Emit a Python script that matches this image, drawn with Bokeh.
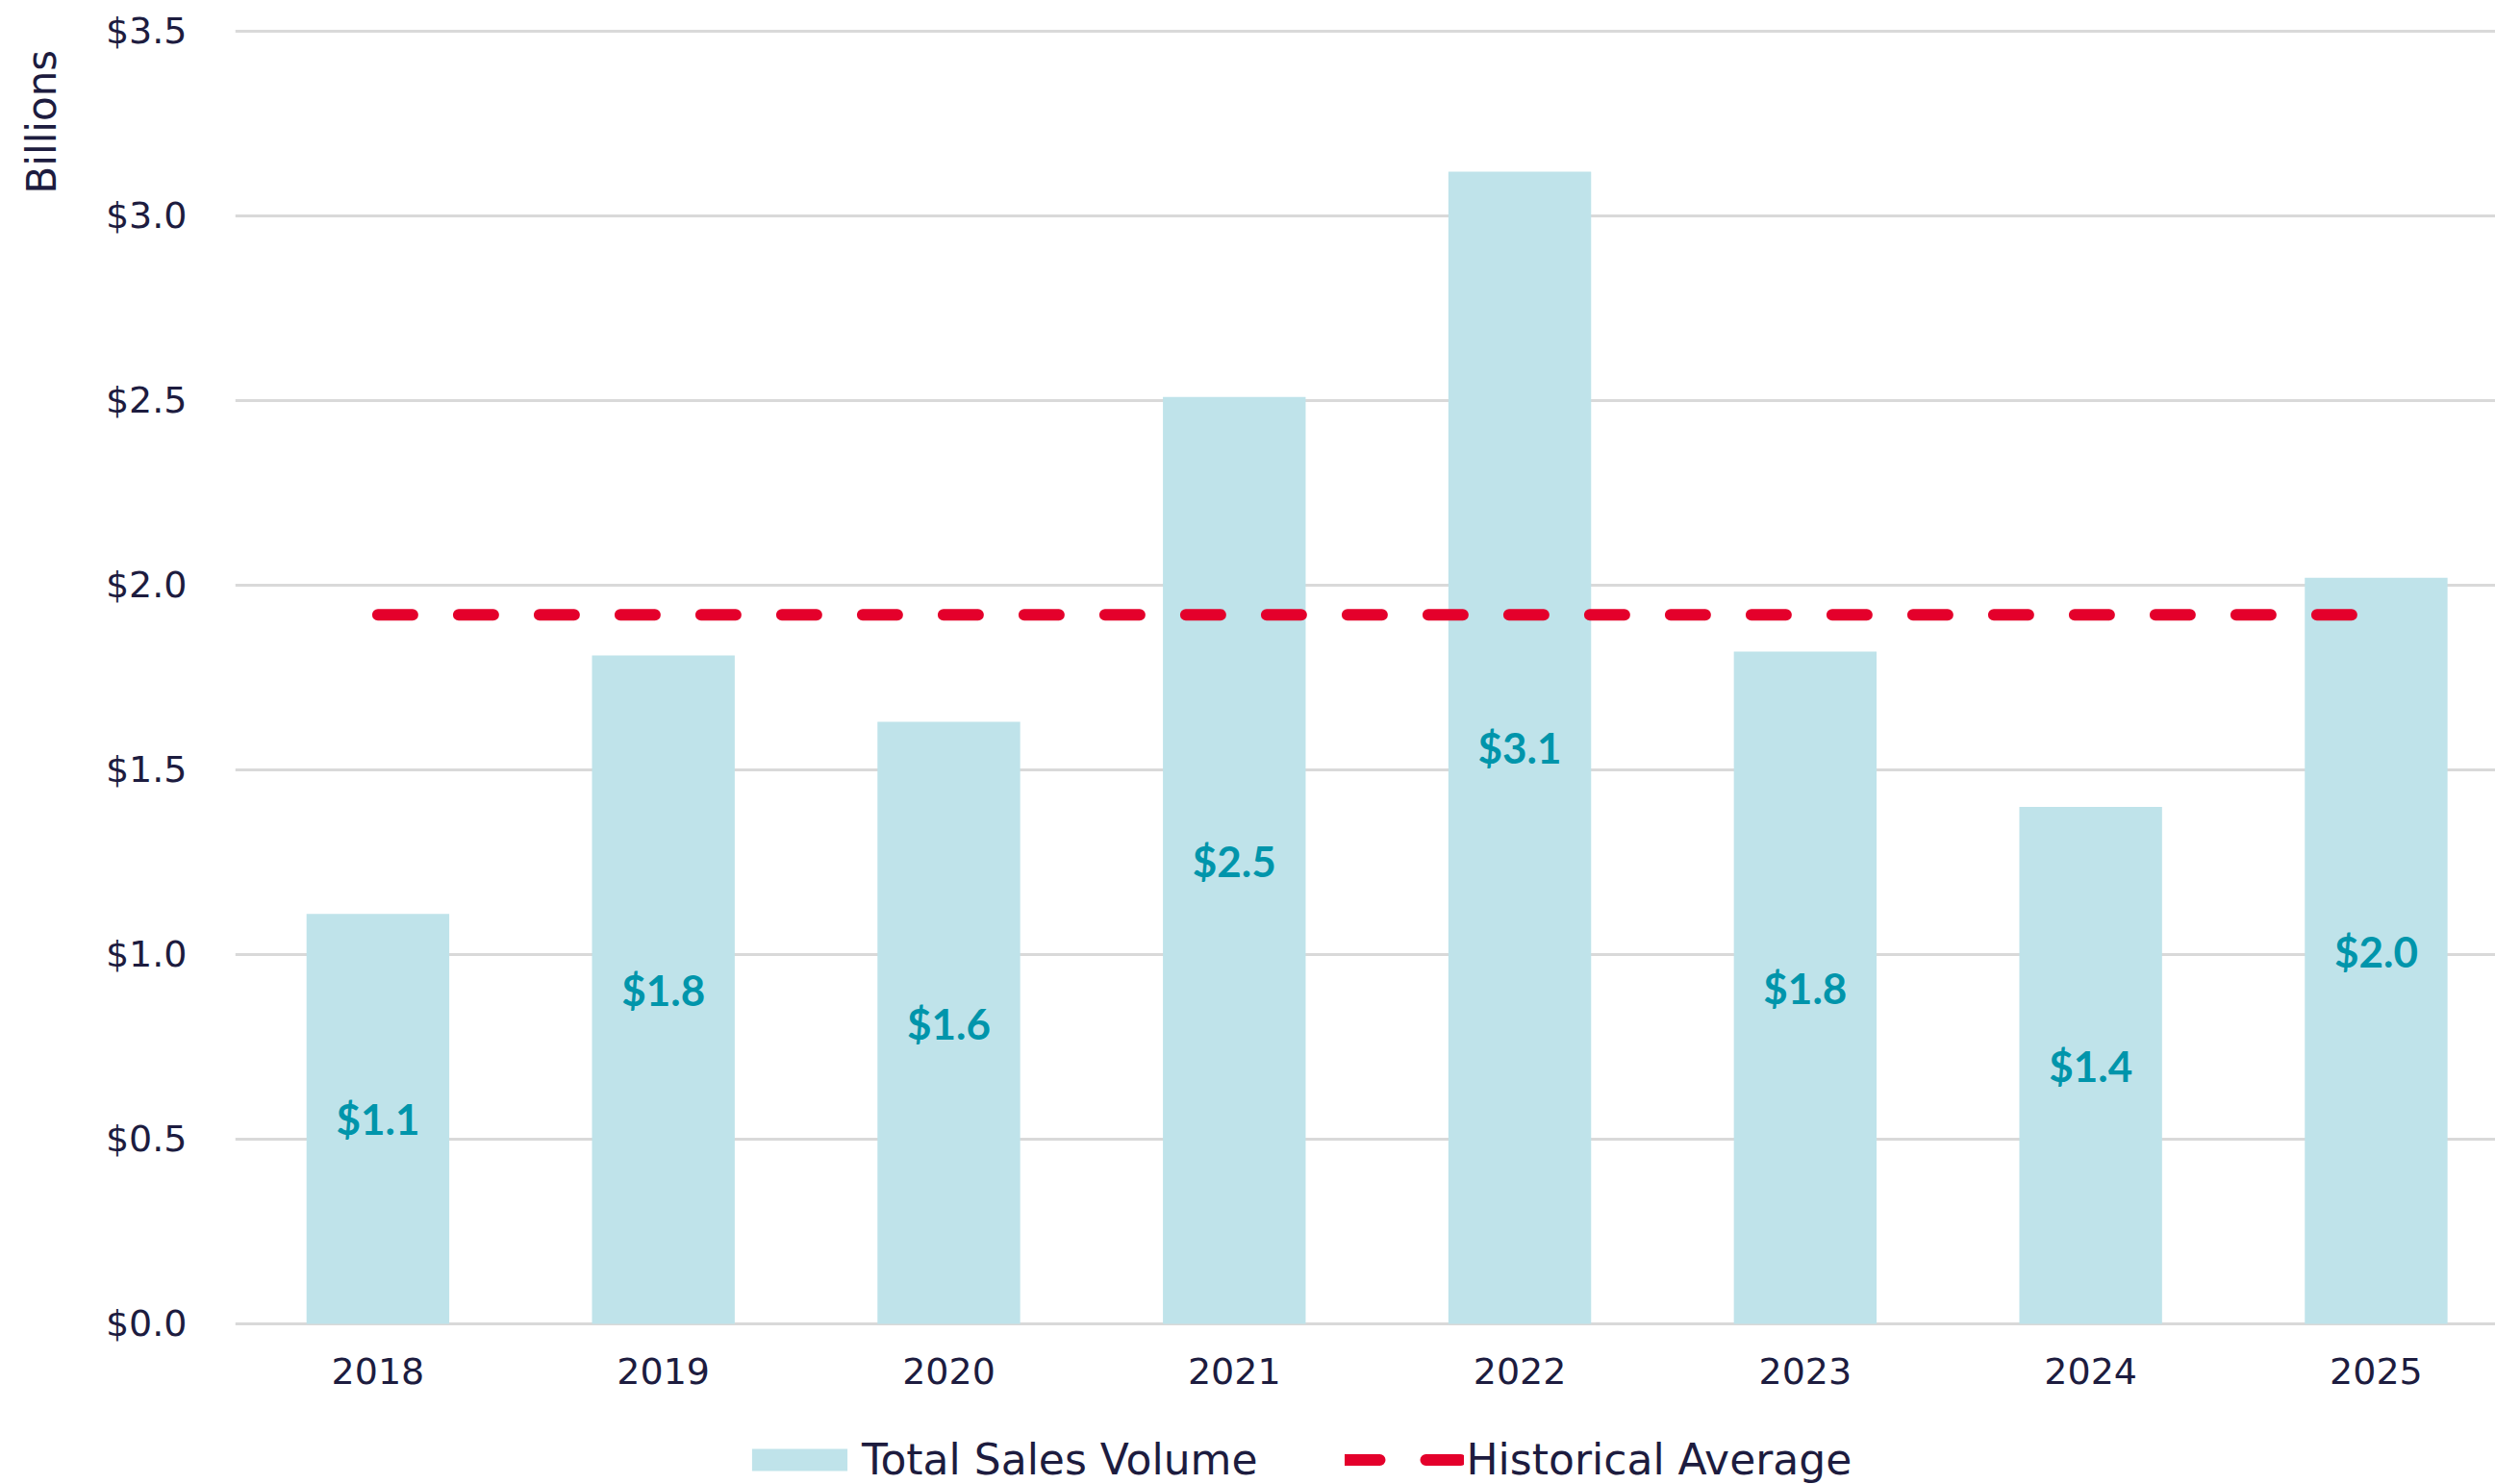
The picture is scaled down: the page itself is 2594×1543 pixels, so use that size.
from bokeh.plotting import figure
from bokeh.models import (ColumnDataSource, Range1d, FixedTicker, NumeralTickFormatter,
                          Legend, LegendItem)
from bokeh.embed import file_html
from bokeh.resources import INLINE
from bokeh.core.properties import value

# ---- data ----
years = ["2018", "2019", "2020", "2021", "2022", "2023", "2024", "2025"]
sales = [1.11, 1.81, 1.63, 2.51, 3.12, 1.82, 1.40, 2.02]
hist_avg = [1.92]
y_ticks = [0.0, 0.5, 1.0, 1.5, 2.0, 2.5, 3.0, 3.5]
y_title = "Billions"
series_names = ["Total Sales Volume", "Historical Average"]

NAVY = "#1D1C3F"
TEAL = "#0095AB"
BAR = "#BFE3EA"
RED = "#E4002B"
GRID = "#D9D9D9"
FONT = "DejaVu Sans"

idx = list(range(len(years)))
src = ColumnDataSource(dict(
    x=idx,
    top=sales,
    mid=[v / 2 for v in sales],
    label=["$%.1f" % v for v in sales],
))

# frame spans down to the canvas bottom so the legend (inside) is not clipped;
# the category axis is pinned at y=0
p = figure(width=2594, height=1543, output_backend="svg", toolbar_location=None,
           x_range=Range1d(-0.5, 7.418), y_range=Range1d(-0.4349, 3.5156),
           min_border_left=244, min_border_right=0, min_border_top=26,
           min_border_bottom=0)
p.outline_line_color = None
p.background_fill_color = "white"
p.border_fill_color = "white"

bars = p.vbar(x="x", top="top", bottom=0, width=0.5, source=src,
              fill_color=BAR, line_color=None)
p.text(x="x", y="mid", text="label", source=src, text_align="center",
       text_baseline="middle", text_font=value("Lato"), text_font_style="bold",
       text_font_size="44px", text_color=TEAL)

avg = p.line(x=[idx[0], idx[-1]], y=[hist_avg[0], hist_avg[0]], line_color=RED,
             line_width=12, line_dash="36 48", line_cap="round")

# grid
p.xgrid.grid_line_color = None
p.ygrid.grid_line_color = GRID
p.ygrid.grid_line_width = 3
p.ygrid.ticker = FixedTicker(ticks=y_ticks)

# y axis
p.yaxis.ticker = FixedTicker(ticks=y_ticks)
p.yaxis.formatter = NumeralTickFormatter(format="$0.0")
p.yaxis.axis_line_color = None
p.yaxis.major_tick_line_color = None
p.yaxis.minor_tick_line_color = None
p.yaxis.major_label_standoff = 44
p.yaxis.major_label_text_font = FONT
p.yaxis.major_label_text_font_size = "38px"
p.yaxis.major_label_text_color = NAVY
# axis title sits at the top end of the axis; trailing no-break spaces push the
# visible word down so it reads below the top of the frame
p.yaxis.axis_label = y_title + "\u00a0" * 15
p.yaxis.axis_label_align = "end"
p.yaxis.axis_label_standoff = 39
p.yaxis.axis_label_text_font = FONT
p.yaxis.axis_label_text_font_size = "42px"
p.yaxis.axis_label_text_font_style = "normal"
p.yaxis.axis_label_text_color = NAVY

# x axis
p.xaxis.ticker = FixedTicker(ticks=idx)
p.xaxis.major_label_overrides = {i: y for i, y in zip(idx, years)}
p.xaxis.fixed_location = 0
p.xaxis.axis_line_color = None
p.xaxis.major_tick_line_color = None
p.xaxis.minor_tick_line_color = None
p.xaxis.major_label_standoff = 30
p.xaxis.major_label_text_font = FONT
p.xaxis.major_label_text_font_size = "38px"
p.xaxis.major_label_text_color = NAVY

legend = Legend(items=[LegendItem(label=series_names[0], renderers=[bars]),
                       LegendItem(label=series_names[1], renderers=[avg])],
                orientation="horizontal", location=(525, 0),
                glyph_width=124, glyph_height=29, label_standoff=3, spacing=90,
                padding=0, margin=0, border_line_color=None,
                background_fill_alpha=0,
                label_text_font=FONT, label_text_font_size="44px",
                label_text_color=NAVY)
p.add_layout(legend, "center")

open("out.html", "w").write(file_html(p, INLINE))
